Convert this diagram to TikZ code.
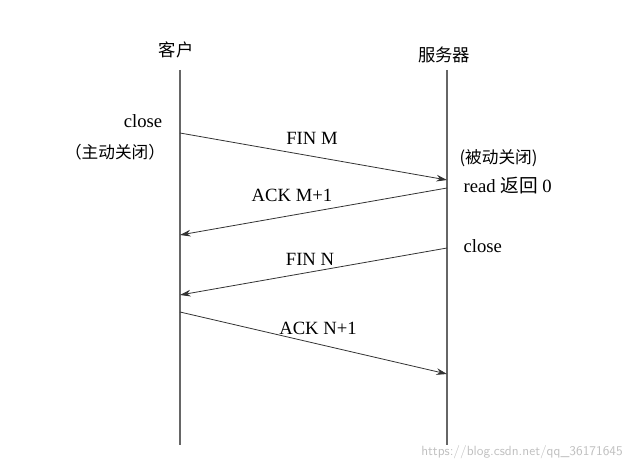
\documentclass[tikz,border=0pt]{standalone}
\usepackage{fontspec}
\setmainfont{Liberation Serif}
\newfontfamily\cjk{Noto Sans CJK SC}
\usetikzlibrary{arrows.meta}
\tikzstyle{life}=[draw=black!60,line width=1.2pt]
\tikzstyle{msg}=[draw=black!80,semithick,-{Stealth[length=8pt,width=5pt]}]
\tikzstyle{lbl}=[font=\fontsize{14}{16}\selectfont,inner sep=1pt]

\begin{document}
\begin{tikzpicture}[x=0.75pt,y=-0.75pt]
\useasboundingbox (0,0) rectangle (641,470);
% hosts
\node[lbl,font=\cjk\fontsize{13}{15}\selectfont] (client) at (176,50) {客户};
\node[lbl,font=\cjk\fontsize{13}{15}\selectfont] (server) at (444,55) {服务器};
\coordinate (ctop) at (180,70);  \coordinate (cbot) at (180,445);
\coordinate (stop) at (447,70);  \coordinate (sbot) at (447,445);
\draw[life] (ctop) -- (cbot);
\draw[life] (stop) -- (sbot);

% message end points
\coordinate (c1) at (180,133); \coordinate (s1) at (447,180);
\coordinate (s2) at (447,188); \coordinate (c2) at (180,235);
\coordinate (s3) at (447,248); \coordinate (c3) at (180,295);
\coordinate (c4) at (180,312); \coordinate (s4) at (447,374);

% messages
\path[msg] (c1) -- (s1);
\path[msg] (s2) -- (c2);
\path[msg] (s3) -- (c3);
\path[msg] (c4) -- (s4);
\node[lbl] (finm) at (312,138) {FIN M};
\node[lbl] (ackm) at (292,195) {ACK M+1};
\node[lbl] (finn) at (310,259) {FIN N};
\node[lbl] (ackn) at (318,328) {ACK N+1};

% states
\node[lbl] (cclose) at (143,121) {close};
\node[lbl,font=\cjk\fontsize{12.5}{15}\selectfont] (active) at (115,152) {（主动关闭）};
\node[lbl,font=\cjk\fontsize{12.5}{15}\selectfont,anchor=west] (passive) at (458,158) {(被动关闭)};
\node[lbl,anchor=west] (read) at (462,186) {read {\cjk 返回} 0};
\node[lbl,anchor=west] (sclose) at (462,246) {close};

% watermark
\node[lbl,font=\sffamily\fontsize{10}{12}\selectfont,text=black!25] (mark) at (522,452) {https://blog.csdn.net/qq\_36171645};
\end{tikzpicture}
\end{document}
